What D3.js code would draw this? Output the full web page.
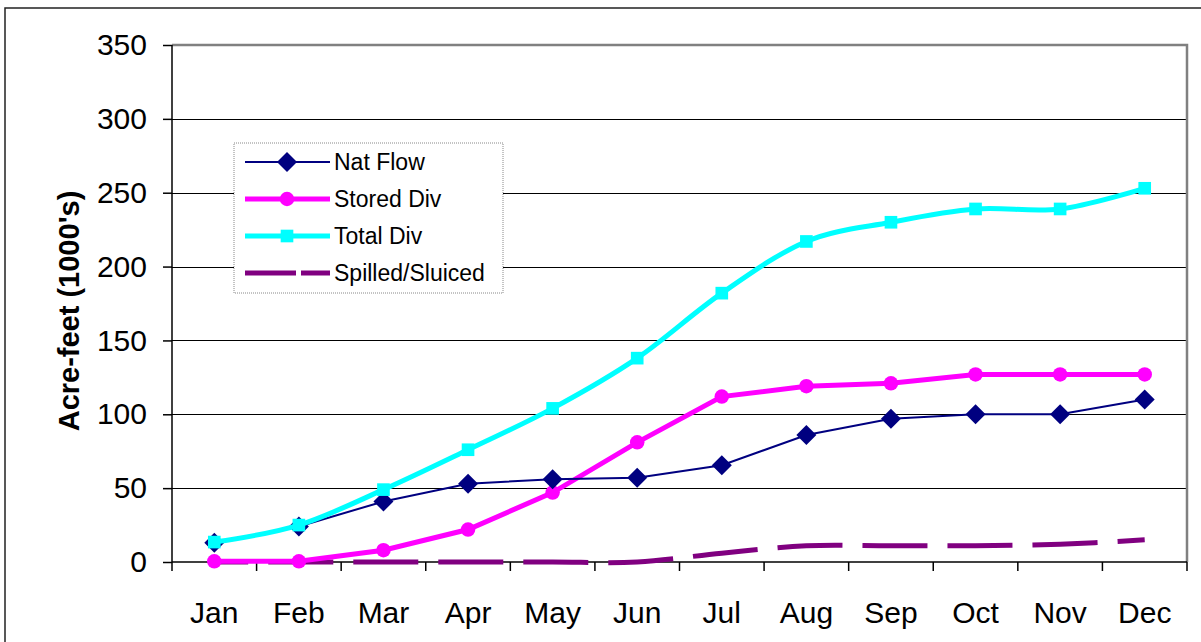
<!DOCTYPE html>
<meta charset="utf-8">
<style>
body { margin: 0; background: #fff; }
svg { font-family: "Liberation Sans", Arial, sans-serif; }
.grid line { stroke: #000; stroke-width: 1; shape-rendering: crispEdges; }
.grid path { stroke-width: 0; }
.axis text { font-size: 30px; fill: #000; }
.axis path, .axis line { stroke: #000; stroke-width: 1.5; }
.legend text { font-size: 23px; }
</style>
<body>
<script src="https://d3js.org/d3.v7.min.js"></script>
<script>

// data (acre-feet, 1000's)
var months = ["Jan","Feb","Mar","Apr","May","Jun","Jul","Aug","Sep","Oct","Nov","Dec"];
var natFlow   = [13, 24, 41, 53, 56, 57, 65.5, 86, 97, 100, 100, 110];
var storedDiv = [0.5, 0.5, 8, 22, 47, 81, 112, 119, 121, 127, 127, 127];
var totalDiv  = [13.5, 25, 49, 76, 104, 138, 182, 217, 230, 239, 239, 253];
var spilled   = [0, 0, 0, 0, 0, 0, 6, 11, 11, 11, 12, 15];
var yTicks = [0, 50, 100, 150, 200, 250, 300, 350];

var margin = {top: 45, right: 14, bottom: 80, left: 172},
    width = 1201 - margin.left - margin.right,
    height = 642 - margin.top - margin.bottom;

var svg = d3.select("body").append("svg")
    .attr("width", 1201)
    .attr("height", 642);

// outer chart border
svg.append("rect")
    .attr("x", 5).attr("y", 8)
    .attr("width", 1210).attr("height", 650)
    .attr("fill", "none").attr("stroke", "#222").attr("stroke-width", 1.5);

var g = svg.append("g")
    .attr("transform", "translate(" + margin.left + "," + margin.top + ")");

var x = d3.scaleBand().domain(months).range([0, width]);
var y = d3.scaleLinear().domain([0, 350]).range([height, 0]);
var cx = function(i) { return x(months[i]) + x.bandwidth() / 2; };

// horizontal grid lines
g.append("g")
    .attr("class", "grid")
    .call(d3.axisLeft(y).tickValues(yTicks.slice(1, -1)).tickSize(-width).tickFormat(""));

// plot frame top / right in grey
g.append("path")
    .attr("d", "M0,0H" + width + "V" + height)
    .attr("fill", "none").attr("stroke", "#808080").attr("stroke-width", 2.5);

// y axis
var ya = g.append("g")
    .attr("class", "axis")
    .call(d3.axisLeft(y).tickValues(yTicks).tickSize(9).tickPadding(16));
ya.select(".domain").attr("d", "M0," + height + "V0");

// x axis, ticks between categories
var xa = g.append("g")
    .attr("class", "axis")
    .attr("transform", "translate(0," + height + ")")
    .call(d3.axisBottom(x).tickSize(0).tickPadding(40));
xa.select(".domain").attr("d", "M0,0H" + width);
xa.selectAll(".sep")
    .data(d3.range(months.length + 1))
    .enter().append("line")
    .attr("x1", function(i) { return i * x.step(); })
    .attr("x2", function(i) { return i * x.step(); })
    .attr("y1", 0).attr("y2", 9)
    .attr("stroke", "#000").attr("stroke-width", 1.5);

// y axis title
svg.append("text")
    .attr("transform", "translate(79,311) rotate(-90)")
    .attr("text-anchor", "middle")
    .style("font-size", "29px").style("font-weight", "bold")
    .text("Acre-feet (1000's)");

var straight = d3.line()
    .x(function(d, i) { return cx(i); })
    .y(function(d) { return y(d); });
var smooth = d3.line()
    .curve(d3.curveCardinal.tension(0))
    .x(function(d, i) { return cx(i); })
    .y(function(d) { return y(d); });

var diamond = d3.symbol().type(d3.symbolSquare).size(200);
var circle = d3.symbol().type(d3.symbolCircle).size(165);
var square = d3.symbol().type(d3.symbolSquare).size(160);

// Spilled/Sluiced
g.append("path").datum(spilled)
    .attr("d", smooth)
    .attr("fill", "none").attr("stroke", "#800080").attr("stroke-width", 5)
    .attr("stroke-dasharray", "65,20").attr("stroke-dashoffset", 31);

// Stored Div
g.append("path").datum(storedDiv)
    .attr("d", straight)
    .attr("fill", "none").attr("stroke", "#ff00ff").attr("stroke-width", 5);
g.selectAll(".stored").data(storedDiv).enter().append("path")
    .attr("transform", function(d, i) { return "translate(" + cx(i) + "," + y(d) + ")"; })
    .attr("d", circle).attr("fill", "#ff00ff");

// Nat Flow
g.append("path").datum(natFlow)
    .attr("d", straight)
    .attr("fill", "none").attr("stroke", "#000080").attr("stroke-width", 2);
g.selectAll(".nat").data(natFlow).enter().append("path")
    .attr("transform", function(d, i) { return "translate(" + cx(i) + "," + y(d) + ") rotate(45)"; })
    .attr("d", diamond).attr("fill", "#000080");

// Total Div
g.append("path").datum(totalDiv)
    .attr("d", smooth)
    .attr("fill", "none").attr("stroke", "#00ffff").attr("stroke-width", 5);
g.selectAll(".total").data(totalDiv).enter().append("path")
    .attr("transform", function(d, i) { return "translate(" + cx(i) + "," + y(d) + ")"; })
    .attr("d", square).attr("fill", "#00ffff");

// legend
var legendItems = [
    {name: "Nat Flow", color: "#000080", w: 2, sym: diamond, rot: 45, dash: null},
    {name: "Stored Div", color: "#ff00ff", w: 5, sym: circle, rot: 0, dash: null},
    {name: "Total Div", color: "#00ffff", w: 5, sym: square, rot: 0, dash: null},
    {name: "Spilled/Sluiced", color: "#800080", w: 5, sym: null, rot: 0, dash: "51,5"}
];
var lg = svg.append("g").attr("class", "legend");
lg.append("rect")
    .attr("x", 234).attr("y", 143).attr("width", 269).attr("height", 150)
    .attr("fill", "#fff").attr("stroke", "#888").attr("stroke-dasharray", "1,1");
var row = lg.selectAll(".row").data(legendItems).enter().append("g")
    .attr("transform", function(d, i) { return "translate(0," + (162 + i * 37) + ")"; });
row.append("line")
    .attr("x1", 245).attr("x2", 330)
    .attr("stroke", function(d) { return d.color; })
    .attr("stroke-width", function(d) { return d.w; })
    .attr("stroke-dasharray", function(d) { return d.dash; });
row.filter(function(d) { return d.sym; }).append("path")
    .attr("transform", function(d) { return "translate(287,0) rotate(" + d.rot + ")"; })
    .attr("d", function(d) { return d.sym(); })
    .attr("fill", function(d) { return d.color; });
row.append("text")
    .attr("x", 334).attr("dy", "0.35em")
    .text(function(d) { return d.name; });

</script>
</body>
